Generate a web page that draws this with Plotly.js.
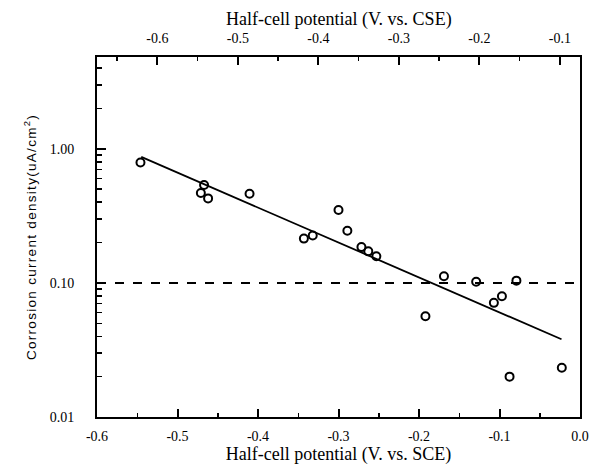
<!DOCTYPE html>
<html>
<head>
<meta charset="utf-8">
<script src="https://cdn.plot.ly/plotly-3.0.1.min.js"></script>
<style>html,body{margin:0;padding:0;background:#fff;}#chart{width:593px;height:468px;}</style>
</head>
<body>
<div id="chart"></div>
<script>
// Measured data: half-cell potential (V vs SCE) and corrosion current density (uA/cm2)
const potentialSCE = [-0.546, -0.467, -0.471, -0.462, -0.4105, -0.300, -0.289, -0.343, -0.332,
                      -0.2715, -0.263, -0.253, -0.169, -0.192, -0.129, -0.079, -0.107, -0.097, -0.0875, -0.0226];
const currentDensity = [0.79, 0.537, 0.468, 0.427, 0.462, 0.350, 0.245, 0.214, 0.226,
                        0.185, 0.172, 0.158, 0.112, 0.0564, 0.102, 0.104, 0.071, 0.0795, 0.020, 0.0233];
// Regression line end points
const fitX = [-0.545, -0.023];
const fitY = [0.87, 0.038];
// Threshold line
const thresholdX = [-0.6, 0.0];
const thresholdY = [0.10, 0.10];
// SCE -> CSE offset
const cseOffset = -0.075;
// Tick labels
const xTickVals = [-0.6, -0.5, -0.4, -0.3, -0.2, -0.1, 0.0];
const xTickText = ['-0.6', '-0.5', '-0.4', '-0.3', '-0.2', '-0.1', '0.0'];
const topTickVals = [-0.6, -0.5, -0.4, -0.3, -0.2, -0.1];
const topTickText = ['-0.6', '-0.5', '-0.4', '-0.3', '-0.2', '-0.1'];
const yTickVals = [0.01, 0.1, 1];
const yTickText = ['0.01', '0.10', '1.00'];
const yMinorMantissa = [2, 3, 4, 5, 6, 7, 8, 9];
const yDecades = [0.01, 0.1, 1];
const topTitle = 'Half-cell potential (V. vs. CSE)';
const bottomTitle = 'Half-cell potential (V. vs. SCE)';
const yTitle = 'Corrosion current density(uA/cm<sup>2</sup>)';

const yMinor = [];
yDecades.forEach(d => yMinorMantissa.forEach(m => { const v = d * m; if (v < 4.8) yMinor.push(v); }));

const tickFont = {family: 'Liberation Serif, Times New Roman, serif', size: 14, color: '#000'};
const titleFont = {family: 'Liberation Serif, Times New Roman, serif', size: 18, color: '#000'};

const traces = [
  {x: thresholdX, y: thresholdY, mode: 'lines', line: {color: '#000', width: 2, dash: '9px,9px'}, hoverinfo: 'skip', showlegend: false},
  {x: fitX, y: fitY, mode: 'lines', line: {color: '#000', width: 1.8}, hoverinfo: 'skip', showlegend: false},
  {x: potentialSCE, y: currentDensity, mode: 'markers',
   marker: {symbol: 'circle-open', size: 8, color: '#000', line: {width: 2, color: '#000'}}, showlegend: false},
  {x: potentialSCE.map(v => v + cseOffset), y: currentDensity, xaxis: 'x2', mode: 'markers',
   marker: {opacity: 0}, hoverinfo: 'skip', showlegend: false}
];

const layout = {
  width: 593, height: 468,
  margin: {l: 97, r: 12.5, t: 57, b: 50.5},
  paper_bgcolor: '#fff', plot_bgcolor: '#fff',
  showlegend: false,
  xaxis: {
    range: [-0.6, 0.0], tickvals: xTickVals, ticktext: xTickText,
    ticks: 'inside', ticklen: 8, tickwidth: 2, tickcolor: '#000',
    minor: {dtick: 0.05, ticks: 'inside', ticklen: 4, tickwidth: 1.5, tickcolor: '#000', showgrid: false},
    showline: true, linecolor: '#000', linewidth: 2,
    showgrid: false, zeroline: false, tickfont: tickFont, ticklabelstandoff: 5,
    title: {text: bottomTitle, font: titleFont, standoff: 1}
  },
  xaxis2: {
    overlaying: 'x', side: 'top', anchor: 'y',
    range: [-0.6 + cseOffset, 0.0 + cseOffset], tickvals: topTickVals, ticktext: topTickText,
    ticks: 'inside', ticklen: 8, tickwidth: 2, tickcolor: '#000',
    minor: {dtick: 0.05, ticks: 'inside', ticklen: 4, tickwidth: 1.5, tickcolor: '#000', showgrid: false},
    showline: true, linecolor: '#000', linewidth: 2,
    showgrid: false, zeroline: false, tickfont: tickFont, ticklabelstandoff: 6
  },
  yaxis: {
    type: 'log', range: [-2, 0.685],
    tickvals: yTickVals, ticktext: yTickText,
    ticks: 'inside', ticklen: 9, tickwidth: 2, tickcolor: '#000',
    minor: {tickvals: yMinor, ticks: 'inside', ticklen: 5, tickwidth: 1.5, tickcolor: '#000', showgrid: false},
    showline: true, linecolor: '#000', linewidth: 2, mirror: true,
    showgrid: false, zeroline: false, tickfont: tickFont, ticklabelstandoff: 18,
    title: {text: yTitle, font: {family: 'Liberation Sans, Arial, sans-serif', size: 13.5, color: '#000'}, standoff: 10}
  },
  annotations: [{
    text: topTitle, xref: 'paper', yref: 'paper', x: 0.5, y: 1 + (57 - 19) / 360.5,
    xanchor: 'center', yanchor: 'middle', showarrow: false, font: titleFont
  }]
};

Plotly.newPlot('chart', traces, layout, {displayModeBar: false, staticPlot: true}).then(() => {
  const t = document.querySelector('.ytitle');
  if (t) t.style.letterSpacing = '1.3px';
});
</script>
</body>
</html>
